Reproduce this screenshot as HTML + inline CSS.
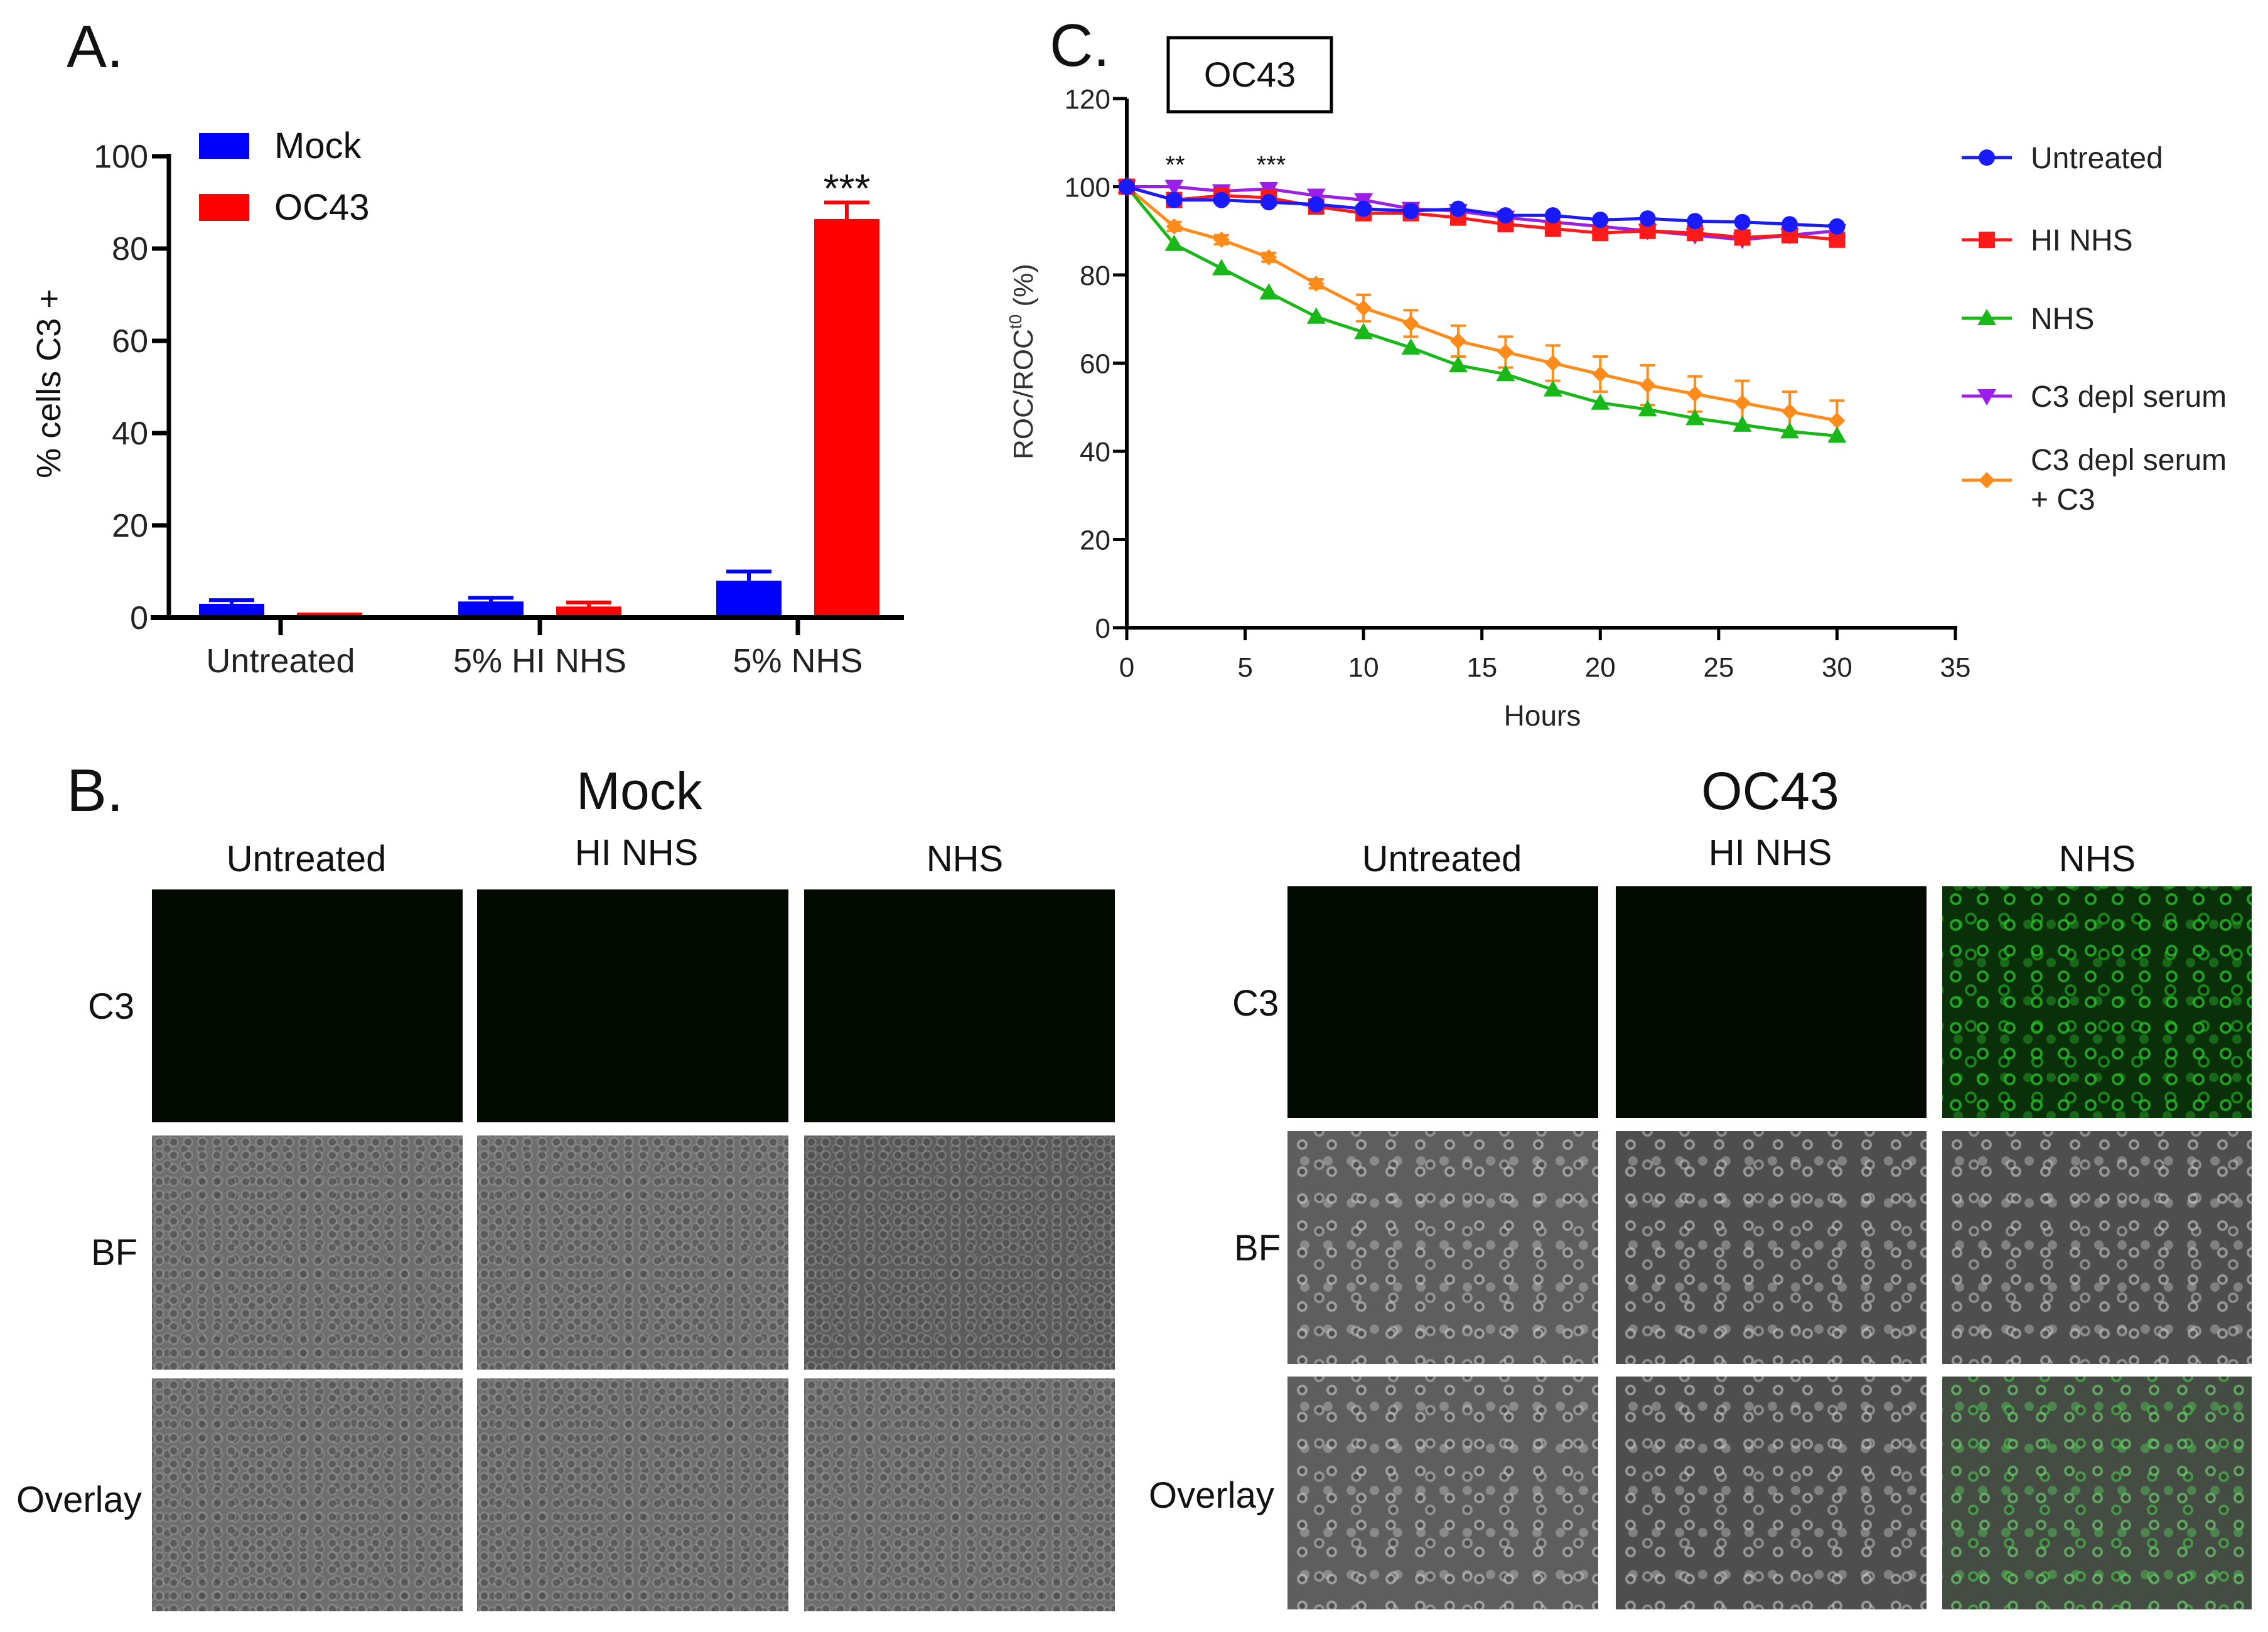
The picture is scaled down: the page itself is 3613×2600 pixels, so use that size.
<!DOCTYPE html>
<html><head><meta charset="utf-8"><style>
html,body{margin:0;padding:0;background:#fff;}
body{width:3613px;height:2600px;position:relative;overflow:hidden;font-family:"Liberation Sans",sans-serif;}
.t{position:absolute;white-space:nowrap;color:#111;}
.img{position:absolute;}
.c3dark{background:#020a02;}
.bfmock{background-color:#6e6e6e;background-image:radial-gradient(circle at 50% 50%,rgba(70,70,70,.5) 0 5px,rgba(170,170,170,.35) 6px 8px,transparent 9px),radial-gradient(circle at 50% 50%,rgba(70,70,70,.4) 0 5px,rgba(160,160,160,.3) 6px 8px,transparent 9px);background-size:23px 21px,27px 25px;background-position:0 0,11px 9px;}
.bfmock.dark{background-color:#5c5c5c;}
.bfoc{background-color:#5e5e5e;background-image:radial-gradient(circle at 50% 50%,rgba(70,70,70,.8) 0 4px,rgba(200,200,200,.6) 5px 8px,transparent 9px),radial-gradient(circle at 50% 50%,rgba(70,70,70,.8) 0 4px,rgba(190,190,190,.55) 5px 8px,transparent 9px),radial-gradient(circle at 50% 50%,rgba(190,190,190,.45) 0 7px,transparent 8px);background-size:47px 43px,59px 53px,37px 67px;background-position:0 0,21px 27px,9px 14px;}
.bfoc.dk{background-color:#4e4e4e;}
.green{background-color:#0a300a;background-image:radial-gradient(circle at 50% 50%,rgba(0,20,0,.6) 0 5px,rgba(40,200,40,.75) 6px 9px,transparent 10px),radial-gradient(circle at 50% 50%,rgba(0,20,0,.6) 0 5px,rgba(30,170,30,.7) 6px 9px,transparent 10px),radial-gradient(circle at 50% 50%,rgba(40,160,40,.5) 0 7px,transparent 8px);background-size:43px 41px,53px 57px,37px 61px;background-position:0 0,19px 23px,7px 30px;}
.ovgreen{background-color:#444c44;background-image:radial-gradient(circle at 50% 50%,rgba(60,60,60,.8) 0 4px,rgba(110,210,110,.65) 5px 8px,transparent 9px),radial-gradient(circle at 50% 50%,rgba(60,60,60,.8) 0 4px,rgba(70,190,70,.65) 5px 8px,transparent 9px),radial-gradient(circle at 50% 50%,rgba(90,200,90,.45) 0 7px,transparent 8px);background-size:45px 43px,57px 53px,37px 67px;background-position:0 0,21px 27px,9px 14px;}
</style></head><body>
<svg id="chartA" width="3613" height="1200" style="position:absolute;left:0;top:0" xmlns="http://www.w3.org/2000/svg"></svg>
<svg id="chartC" width="3613" height="1200" style="position:absolute;left:0;top:0" xmlns="http://www.w3.org/2000/svg"></svg>

<div class="t" style="left:106px;top:20px;font-size:96px;">A.</div>
<div class="t" style="left:1672px;top:18px;font-size:96px;">C.</div>
<div class="t" style="left:106px;top:1205px;font-size:96px;">B.</div>
<div class="t" style="left:918px;top:1212px;font-size:84px;width:200px;text-align:center;">Mock</div>
<div class="t" style="left:2700px;top:1212px;font-size:84px;width:240px;text-align:center;">OC43</div>

<div class="t" style="left:338px;top:1335px;width:300px;text-align:center;font-size:58px;">Untreated</div>
<div class="t" style="left:864px;top:1325px;width:300px;text-align:center;font-size:58px;">HI NHS</div>
<div class="t" style="left:1387px;top:1335px;width:300px;text-align:center;font-size:58px;">NHS</div>
<div class="t" style="left:2147px;top:1335px;width:300px;text-align:center;font-size:58px;">Untreated</div>
<div class="t" style="left:2670px;top:1325px;width:300px;text-align:center;font-size:58px;">HI NHS</div>
<div class="t" style="left:3191px;top:1335px;width:300px;text-align:center;font-size:58px;">NHS</div>

<div class="t" style="left:140px;top:1570px;font-size:58px;">C3</div>
<div class="t" style="left:145px;top:1962px;font-size:58px;">BF</div>
<div class="t" style="left:26px;top:2356px;font-size:58px;">Overlay</div>
<div class="t" style="left:1963px;top:1565px;font-size:58px;">C3</div>
<div class="t" style="left:1966px;top:1955px;font-size:58px;">BF</div>
<div class="t" style="left:1830px;top:2349px;font-size:58px;">Overlay</div>

<div class="img c3dark" style="left:242px;top:1417px;width:495px;height:371px"></div>
<div class="img c3dark" style="left:760px;top:1417px;width:496px;height:371px"></div>
<div class="img c3dark" style="left:1281px;top:1417px;width:495px;height:371px"></div>
<div class="img bfmock" style="left:242px;top:1809px;width:495px;height:373px"></div>
<div class="img bfmock" style="left:760px;top:1809px;width:496px;height:373px"></div>
<div class="img bfmock dark" style="left:1281px;top:1809px;width:495px;height:373px"></div>
<div class="img bfmock" style="left:242px;top:2196px;width:495px;height:371px"></div>
<div class="img bfmock" style="left:760px;top:2196px;width:496px;height:371px"></div>
<div class="img bfmock" style="left:1281px;top:2196px;width:495px;height:371px"></div>

<div class="img c3dark" style="left:2051px;top:1412px;width:495px;height:369px"></div>
<div class="img c3dark" style="left:2574px;top:1412px;width:495px;height:369px"></div>
<div class="img green" style="left:3094px;top:1412px;width:493px;height:369px"></div>
<div class="img bfoc" style="left:2051px;top:1802px;width:495px;height:371px"></div>
<div class="img bfoc dk" style="left:2574px;top:1802px;width:495px;height:371px"></div>
<div class="img bfoc dk" style="left:3094px;top:1802px;width:493px;height:371px"></div>
<div class="img bfoc" style="left:2051px;top:2193px;width:495px;height:371px"></div>
<div class="img bfoc dk" style="left:2574px;top:2193px;width:495px;height:371px"></div>
<div class="img ovgreen" style="left:3094px;top:2193px;width:493px;height:371px"></div>

<script>
// ---------- Chart A data ----------
const aCategories = ["Untreated", "5% HI NHS", "5% NHS"];
const aMock = [3, 3.5, 8];
const aMockErr = [0.8, 0.8, 2];
const aOC43 = [0.7, 2, 86];
const aOC43Err = [0, 1.3, 4];
const aTicks = [0, 20, 40, 60, 80, 100];

// ---------- Chart C data ----------
const cHours = [0,2,4,6,8,10,12,14,16,18,20,22,24,26,28,30];
const cUntreated = [100,97,97,96.5,96,95,94.5,95,93.5,93.5,92.5,92.8,92.2,92,91.5,91];
const cHINHS = [100,97,98,97.5,95.5,94,94,93,91.5,90.5,89.5,90,89.5,88.5,89,88];
const cNHS = [100,87,81.5,76,70.5,67,63.5,59.5,57.5,54,51,49.5,47.5,46,44.5,43.5];
const cC3depl = [100,100,99,99.5,98,97,95,94.5,93,92,91,90,89,88,89,90];
const cC3deplC3 = [100,91,88,84,78,72.5,69,65,62.5,60,57.5,55,53,51,49,47];
const cC3deplC3Err = [0,1,1,1,1,3,3,3.5,3.5,4,4,4.5,4,5,4.5,4.5];
const cYTicks = [0,20,40,60,80,100,120];
const cXTicks = [0,5,10,15,20,25,30,35];

const NS = "http://www.w3.org/2000/svg";
function mk(parent, tag, attrs, text) {
  const e = document.createElementNS(NS, tag);
  for (const k in attrs) e.setAttribute(k, attrs[k]);
  if (text !== undefined) e.textContent = text;
  parent.appendChild(e);
  return e;
}
const FONT = '"Liberation Sans Narrow","Liberation Sans",sans-serif';

// ---------- Draw chart A ----------
(function () {
  const svg = document.getElementById("chartA");
  const y0 = 984, y100 = 249;
  const yA = v => y0 - (v / 100) * (y0 - y100);
  const groupX = [447, 860, 1271];
  const bw = 104, off = 78;
  aCategories.forEach((c, i) => {
    const cx = groupX[i];
    const mx = cx - off, ox = cx + off;
    const be = mk(svg, "rect", {x: mx - bw/2, y: yA(aMock[i]), width: bw, height: y0 - yA(aMock[i]), fill: "#0000ff"});
    
    
    const m1 = mk(svg, "line", {x1: mx, x2: mx, y1: yA(aMock[i]), y2: yA(aMock[i] + aMockErr[i]), stroke: "#0000ff", "stroke-width": 6});
    
    
    mk(svg, "line", {x1: mx - 36, x2: mx + 36, y1: yA(aMock[i] + aMockErr[i]), y2: yA(aMock[i] + aMockErr[i]), stroke: "#0000ff", "stroke-width": 6});
    const bo = mk(svg, "rect", {x: ox - bw/2, y: yA(aOC43[i]) - 3, width: bw, height: y0 - yA(aOC43[i]) + 3, fill: "#ff0000"});
    
    
    if (aOC43Err[i] > 0) {
      const e1 = mk(svg, "line", {x1: ox, x2: ox, y1: yA(aOC43[i]), y2: yA(aOC43[i] + aOC43Err[i]), stroke: "#ff0000", "stroke-width": 6});
      
      
      mk(svg, "line", {x1: ox - 36, x2: ox + 36, y1: yA(aOC43[i] + aOC43Err[i]), y2: yA(aOC43[i] + aOC43Err[i]), stroke: "#ff0000", "stroke-width": 6});
    }
    const lab = mk(svg, "text", {x: cx, y: 1071, "text-anchor": "middle", "font-size": 54, "font-family": FONT, fill: "#222"}, c);
    
    
    mk(svg, "line", {x1: cx, x2: cx, y1: y0, y2: y0 + 28, stroke: "#000", "stroke-width": 7});
  });
  const ya = mk(svg, "line", {x1: 269, x2: 269, y1: y100 - 4, y2: y0 + 4, stroke: "#000", "stroke-width": 7});
  
  
  const xa = mk(svg, "line", {x1: 240, x2: 1440, y1: y0, y2: y0, stroke: "#000", "stroke-width": 8});
  
  
  aTicks.forEach(t => {
    mk(svg, "line", {x1: 242, x2: 269, y1: yA(t), y2: yA(t), stroke: "#000", "stroke-width": 7});
    const tl = mk(svg, "text", {x: 236, y: yA(t) + 18, "text-anchor": "end", "font-size": 52, "font-family": FONT, fill: "#222"}, String(t));
    
    
  });
  const yt = mk(svg, "text", {x: 0, y: 0, transform: "translate(96,611) rotate(-90)", "text-anchor": "middle", "font-size": 54, "font-family": "\"Liberation Sans\",sans-serif", fill: "#111"}, "% cells C3 +");
  
  
  const st = mk(svg, "text", {x: 1349, y: 322, "text-anchor": "middle", "font-size": 64, "font-family": FONT, fill: "#111"}, "***");
  
  
  const lm = mk(svg, "rect", {x: 317, y: 212, width: 80, height: 41, fill: "#0000ff"});
  
  
  const lmt = mk(svg, "text", {x: 437, y: 252, "font-size": 58, "font-family": FONT, fill: "#111"}, "Mock");
  
  
  const lo = mk(svg, "rect", {x: 317, y: 309, width: 80, height: 43, fill: "#ff0000"});
  
  
  const lot = mk(svg, "text", {x: 437, y: 350, "font-size": 58, "font-family": FONT, fill: "#111"}, "OC43");
  
  
})();

// ---------- Draw chart C ----------
(function () {
  const svg = document.getElementById("chartC");
  const X0 = 1795, X35 = 3115, Y0 = 1000, Y120 = 157;
  const xC = h => X0 + (h / 35) * (X35 - X0);
  const yC = v => Y0 - (v / 120) * (Y0 - Y120);
  const ya = mk(svg, "line", {x1: X0, x2: X0, y1: Y120, y2: Y0, stroke: "#000", "stroke-width": 6});
  
  
  const xa = mk(svg, "line", {x1: X0 - 3, x2: X35 + 3, y1: Y0, y2: Y0, stroke: "#000", "stroke-width": 6});
  
  
  cYTicks.forEach(t => {
    mk(svg, "line", {x1: X0 - 22, x2: X0, y1: yC(t), y2: yC(t), stroke: "#000", "stroke-width": 5});
    const tl = mk(svg, "text", {x: X0 - 26, y: yC(t) + 16, "text-anchor": "end", "font-size": 44, "font-family": FONT, fill: "#222"}, String(t));
    
    
  });
  cXTicks.forEach(t => {
    mk(svg, "line", {x1: xC(t), x2: xC(t), y1: Y0, y2: Y0 + 20, stroke: "#000", "stroke-width": 5});
    const tl = mk(svg, "text", {x: xC(t), y: 1078, "text-anchor": "middle", "font-size": 44, "font-family": FONT, fill: "#222"}, String(t));
    
    
  });
  const xt = mk(svg, "text", {x: 2457, y: 1156, "text-anchor": "middle", "font-size": 46, "font-family": FONT, fill: "#222"}, "Hours");
  
  
  const yt = mk(svg, "text", {x: 0, y: 0, transform: "translate(1645,576) rotate(-90)", "text-anchor": "middle", "font-size": 44, "font-family": "\"Liberation Sans\",sans-serif", fill: "#333"});
  
  
  mk(yt, "tspan", {}, "ROC/ROC");
  mk(yt, "tspan", {dy: -18, "font-size": 28}, "t0");
  mk(yt, "tspan", {dy: 18}, " (%)");
  const box = mk(svg, "rect", {x: 1861, y: 60, width: 260, height: 118, fill: "none", stroke: "#000", "stroke-width": 5});
  
  
  const bt = mk(svg, "text", {x: 1991, y: 138, "text-anchor": "middle", "font-size": 56, "font-family": FONT, fill: "#111"}, "OC43");
  
  
  const s1 = mk(svg, "text", {x: 1872, y: 276, "text-anchor": "middle", "font-size": 40, "font-family": FONT, fill: "#111"}, "**");
  
  
  const s2 = mk(svg, "text", {x: 2025, y: 276, "text-anchor": "middle", "font-size": 40, "font-family": FONT, fill: "#111"}, "***");
  
  

  function marker(g, shape, x, y, color) {
    const r = 13;
    if (shape === "circle") return mk(g, "circle", {cx: x, cy: y, r: r, fill: color});
    if (shape === "square") return mk(g, "rect", {x: x - r, y: y - r, width: 2*r, height: 2*r, fill: color});
    if (shape === "tri") return mk(g, "polygon", {points: `${x},${y-r-2} ${x-r-2},${y+r-2} ${x+r+2},${y+r-2}`, fill: color});
    if (shape === "itri") return mk(g, "polygon", {points: `${x},${y+r+2} ${x-r-2},${y-r+2} ${x+r+2},${y-r+2}`, fill: color});
    if (shape === "diamond") return mk(g, "polygon", {points: `${x},${y-r} ${x+r},${y} ${x},${y+r} ${x-r},${y}`, fill: color});
  }
  const series = [
    {name: "c3-depl-serum", vals: cC3depl, color: "#9b1fe8", shape: "itri", err: null},
    {name: "c3-depl-serum-c3", vals: cC3deplC3, color: "#ff8c1a", shape: "diamond", err: cC3deplC3Err},
    {name: "nhs", vals: cNHS, color: "#18b818", shape: "tri", err: null},
    {name: "hi-nhs", vals: cHINHS, color: "#ff1a1a", shape: "square", err: null},
    {name: "untreated", vals: cUntreated, color: "#1a1aff", shape: "circle", err: null}
  ];
  series.forEach(s => {
    const g = mk(svg, "g", {});
    
    
    const pts = cHours.map((h, i) => xC(h) + "," + yC(s.vals[i])).join(" ");
    const pl = mk(g, "polyline", {points: pts, fill: "none", stroke: s.color, "stroke-width": 5});
    
    
    cHours.forEach((h, i) => {
      if (s.err && s.err[i] > 0) {
        const x = xC(h), yt2 = yC(s.vals[i] + s.err[i]), yb = yC(s.vals[i] - s.err[i]);
        mk(g, "line", {x1: x, x2: x, y1: yt2, y2: yb, stroke: s.color, "stroke-width": 4});
        mk(g, "line", {x1: x - 12, x2: x + 12, y1: yt2, y2: yt2, stroke: s.color, "stroke-width": 4});
        mk(g, "line", {x1: x - 12, x2: x + 12, y1: yb, y2: yb, stroke: s.color, "stroke-width": 4});
      }
      const m = marker(g, s.shape, xC(h), yC(s.vals[i]), s.color);
      
      
    });
  });
  const legend = [
    {label: ["Untreated"], color: "#1a1aff", shape: "circle", y: 251},
    {label: ["HI NHS"], color: "#ff1a1a", shape: "square", y: 382},
    {label: ["NHS"], color: "#18b818", shape: "tri", y: 507},
    {label: ["C3 depl serum"], color: "#9b1fe8", shape: "itri", y: 631},
    {label: ["C3 depl serum", "+ C3"], color: "#ff8c1a", shape: "diamond", y: 765}
  ];
  legend.forEach(l => {
    const g = mk(svg, "g", {});
    
    
    mk(g, "line", {x1: 3125, x2: 3205, y1: l.y, y2: l.y, stroke: l.color, "stroke-width": 5});
    marker(g, l.shape, 3165, l.y, l.color);
    if (l.label.length === 1) {
      mk(g, "text", {x: 3235, y: l.y + 17, "font-size": 48, "font-family": FONT, fill: "#222"}, l.label[0]);
    } else {
      mk(g, "text", {x: 3235, y: l.y - 16, "font-size": 48, "font-family": FONT, fill: "#222"}, l.label[0]);
      mk(g, "text", {x: 3235, y: l.y + 47, "font-size": 48, "font-family": FONT, fill: "#222"}, l.label[1]);
    }
  });
})();
</script>
</body></html>
